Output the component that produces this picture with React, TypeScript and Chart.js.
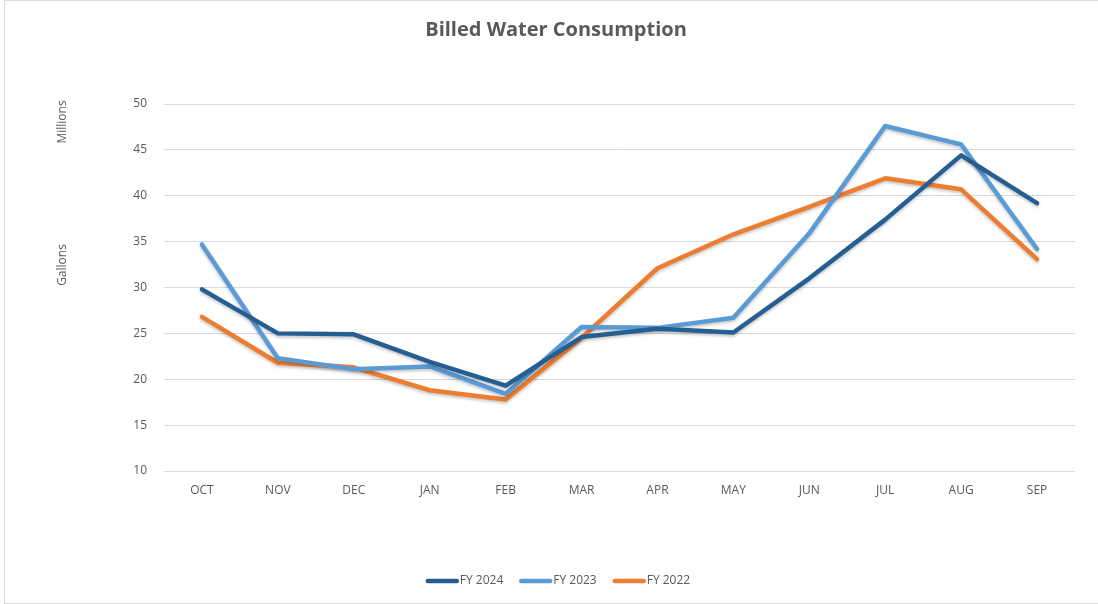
import React, { useEffect, useRef } from "react";
import { Chart, registerables } from "chart.js";

Chart.register(...registerables);

const months = ["OCT", "NOV", "DEC", "JAN", "FEB", "MAR", "APR", "MAY", "JUN", "JUL", "AUG", "SEP"];
const fy2024 = [29.8, 25.0, 24.9, 21.9, 19.3, 24.6, 25.5, 25.1, 31.0, 37.4, 44.4, 39.2];
const fy2023 = [34.7, 22.3, 21.1, 21.4, 18.4, 25.7, 25.6, 26.7, 35.9, 47.6, 45.6, 34.2];
const fy2022 = [26.8, 21.8, 21.3, 18.8, 17.8, 24.5, 32.1, 35.8, 38.8, 41.9, 40.7, 33.1];
const seriesNames = ["FY 2024", "FY 2023", "FY 2022"];
const seriesColors = ["#255E91", "#5B9BD5", "#ED7D31"];
const yTicks = { min: 10, max: 50, step: 5 };
const titleText = "Billed Water Consumption";
const unitsLabel = "Millions";
const axisTitle = "Gallons";

const FONT = "'Open Sans', 'DejaVu Sans', sans-serif";
const TEXT = "#595959";

const textPlugin = {
  id: "extraText",
  afterDraw(chart: any) {
    const ctx = chart.ctx;
    ctx.save();
    ctx.fillStyle = TEXT;
    ctx.textAlign = "center";
    ctx.textBaseline = "middle";
    ctx.font = `bold 20px ${FONT}`;
    ctx.fillText(titleText, 556, 30);
    ctx.font = `12px ${FONT}`;
    ctx.save();
    ctx.translate(63, 122);
    ctx.rotate(-Math.PI / 2);
    ctx.fillText(unitsLabel, 0, 0);
    ctx.restore();
    ctx.save();
    ctx.translate(63, 265);
    ctx.rotate(-Math.PI / 2);
    ctx.fillText(axisTitle, 0, 0);
    ctx.restore();

    // legend
    const lineLen = 33;
    const gap = 1;
    const itemGap = 16;
    const widths = chart.data.datasets.map((ds: any) => ctx.measureText(ds.label).width);
    const total =
      widths.reduce((a: number, w: number) => a + lineLen + gap + w, 0) + itemGap * (widths.length - 1);
    let x = 558 - total / 2;
    const y = 581;
    ctx.textAlign = "left";
    chart.data.datasets.forEach((ds: any, i: number) => {
      ctx.strokeStyle = ds.borderColor;
      ctx.lineWidth = 4.5;
      ctx.lineCap = "round";
      ctx.beginPath();
      ctx.moveTo(x + 2, y);
      ctx.lineTo(x + lineLen - 2, y);
      ctx.stroke();
      ctx.fillStyle = TEXT;
      ctx.fillText(ds.label, x + lineLen + gap, y);
      x += lineLen + gap + widths[i] + itemGap;
    });
    ctx.restore();
  },
};

const shadowPlugin = {
  id: "lineShadow",
  beforeDatasetsDraw(chart: any) {
    const ctx = chart.ctx;
    ctx.save();
    ctx.shadowColor = "rgba(0,0,0,0.22)";
    ctx.shadowBlur = 3;
    ctx.shadowOffsetX = 0;
    ctx.shadowOffsetY = 2;
  },
  afterDatasetsDraw(chart: any) {
    chart.ctx.restore();
  },
};

export default function App() {
  const ref = useRef<HTMLCanvasElement>(null);
  useEffect(() => {
    if (!ref.current) return;
    const data = [fy2024, fy2023, fy2022];
    const chart = new Chart(ref.current, {
      type: "line",
      data: {
        labels: months,
        datasets: data.map((d, i) => ({
          label: seriesNames[i],
          data: d,
          borderColor: seriesColors[i],
          backgroundColor: seriesColors[i],
          borderWidth: 4.5,
          pointRadius: 0,
          tension: 0,
          borderCapStyle: "round" as const,
          borderJoinStyle: "round" as const,
        })),
      },
      options: {
        animation: false,
        responsive: false,
        maintainAspectRatio: false,
        layout: { padding: { left: 0, right: 23, top: 104, bottom: 0 } },
        plugins: {
          title: { display: false },
          tooltip: { enabled: false },
          legend: { display: false },
        },
        scales: {
          x: {
            offset: true,
            grid: { display: false, drawTicks: false },
            border: { display: false },
            ticks: { color: TEXT, font: { family: FONT, size: 12 }, padding: 12, maxRotation: 0 },
            afterFit(scale: any) {
              scale.height = 133;
            },
          },
          y: {
            min: yTicks.min,
            max: yTicks.max,
            grid: { color: "#d9d9d9", lineWidth: 1, drawTicks: false },
            border: { display: false },
            ticks: { stepSize: yTicks.step, color: TEXT, font: { family: FONT, size: 12 }, padding: 17 },
            afterFit(scale: any) {
              scale.width = 164;
            },
          },
        },
      },
      plugins: [textPlugin, shadowPlugin],
    });
    return () => chart.destroy();
  }, []);
  return (
    <div style={{ position: "fixed", left: 0, top: 0, width: 1098, height: 604, background: "#fff" }}>
      <canvas ref={ref} width={1098} height={604} style={{ display: "block" }} />
      <div
        style={{
          position: "absolute",
          left: 4,
          top: 0,
          width: 1094,
          height: 602,
          borderLeft: "1px solid #d9d9d9",
          borderTop: "1px solid #d9d9d9",
          borderBottom: "1px solid #d9d9d9",
          pointerEvents: "none",
        }}
      />
    </div>
  );
}
